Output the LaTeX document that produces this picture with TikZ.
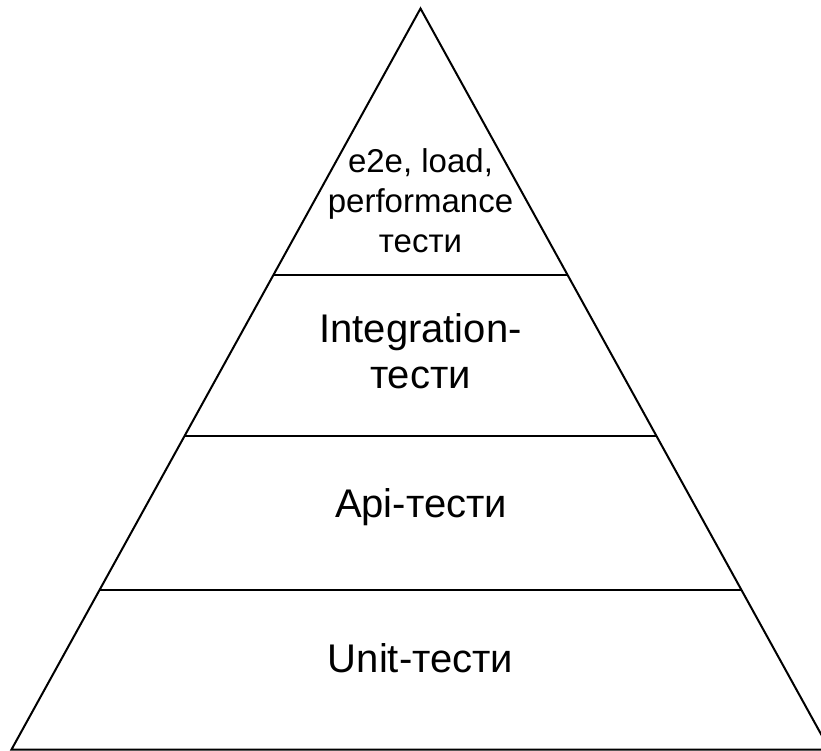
\documentclass[tikz,border=0pt]{standalone}
\usepackage{fontspec}
\setmainfont{Liberation Sans}
\usetikzlibrary{calc}
\begin{document}
\begin{tikzpicture}[x=1pt,y=-1pt,
  edge/.style={line width=2pt,black,line join=miter},
  big/.style={font=\fontsize{40}{46}\selectfont,align=center,inner sep=0pt},
  small/.style={font=\fontsize{33}{40}\selectfont,align=center,inner sep=0pt}]
\useasboundingbox (0,0) rectangle (821,751);
\fill[white] (0,0) rectangle (821,751);
\clip (0,0) rectangle (821,751);
\coordinate (apex) at (420.5,8.5);
\coordinate (bl) at (11.5,749.5);
\coordinate (br) at (829.5,749.5);
\draw[edge] (apex) -- (bl) -- (br) -- cycle;
\coordinate (l1) at ($(apex)!0.3603!(bl)$);
\coordinate (r1) at ($(apex)!0.3603!(br)$);
\coordinate (l2) at ($(apex)!0.5769!(bl)$);
\coordinate (r2) at ($(apex)!0.5769!(br)$);
\coordinate (l3) at ($(apex)!0.7854!(bl)$);
\coordinate (r3) at ($(apex)!0.7854!(br)$);
\draw[edge] (l1) -- (r1);
\draw[edge] (l2) -- (r2);
\draw[edge] (l3) -- (r3);
\node[small] (top) at (420.5,201) {e2e, load,\\performance\\тести};
\node[big] (integ) at (420.5,351) {Integration-\\тести};
\node[big,anchor=base] (api) at (421,517) {Api-тести};
\node[big,anchor=base] (unit) at (420.5,672) {Unit-тести};
\end{tikzpicture}
\end{document}
